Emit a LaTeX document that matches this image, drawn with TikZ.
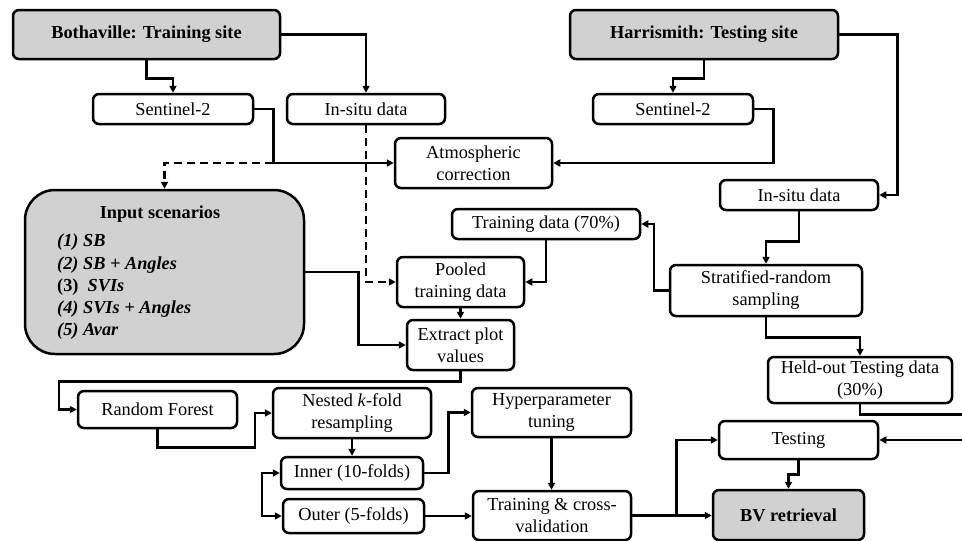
\documentclass[tikz,border=0pt]{standalone}
\usepackage{fontspec}
\setmainfont{Liberation Serif}
\usetikzlibrary{arrows.meta}

\begin{document}
\begin{tikzpicture}[x=1pt, y=-1pt, >={Triangle[length=7pt,width=7pt]},
	box/.style={draw, line width=2.5pt, rounded corners=6pt, fill=white, align=center, inner sep=0pt, font=\fontsize{18.3}{22}\selectfont},
	site/.style={box, fill=black!18, font=\fontsize{18.3}{22}\selectfont\bfseries},
	link/.style={line width=2.5pt, ->},
	dlink/.style={link, dash pattern=on 8pt off 5pt}]
	\useasboundingbox (0,0) rectangle (962,541);
	\node[site, minimum width=267pt, minimum height=49pt] (bv) at (146.5,34.5) {Bothaville: Training site};
	\node[site, minimum width=268pt, minimum height=49pt] (hs) at (704,34.5) {Harrismith: Testing site};
	\node[box, minimum width=160pt, minimum height=30pt] (senA) at (173,109) {Sentinel-2};
	\node[box, minimum width=158pt, minimum height=30pt] (insA) at (366,109) {In-situ data};
	\node[box, minimum width=160pt, minimum height=30pt] (senB) at (673,109) {Sentinel-2};
	\node[box, minimum width=157pt, minimum height=50pt] (atm) at (473.5,163) {Atmospheric\\correction};
	\node[box, minimum width=158pt, minimum height=30pt] (insB) at (799,195) {In-situ data};
	\node[box, minimum width=188pt, minimum height=30pt] (trn) at (546,224) {Training data (70\%)};
	\node[box, minimum width=127pt, minimum height=50pt] (pool) at (460.5,282) {Pooled\\training data};
	\node[box, minimum width=107pt, minimum height=50pt] (extr) at (460.5,345) {Extract plot\\values};
	\node[box, minimum width=192pt, minimum height=51pt] (strat) at (766,290.5) {Stratified-random\\sampling};
	\node[box, minimum width=184pt, minimum height=46pt] (held) at (860,380) {Held-out Testing data\\(30\%)};
	\node[box, minimum width=159pt, minimum height=37pt] (rf) at (157.5,409.5) {Random Forest};
	\node[box, minimum width=158pt, minimum height=50pt] (nest) at (352,413) {Nested \textit{k}-fold\\resampling};
	\node[box, minimum width=142pt, minimum height=32pt] (inner) at (352,473) {Inner (10-folds)};
	\node[box, minimum width=141pt, minimum height=34pt] (outer) at (353.5,516) {Outer (5-folds)};
	\node[box, minimum width=159pt, minimum height=49pt] (hyp) at (551.5,412.5) {Hyperparameter\\tuning};
	\node[box, minimum width=158pt, minimum height=49pt] (tcv) at (552,515.5) {Training \& cross-\\validation};
	\node[box, minimum width=159pt, minimum height=38pt] (test) at (798.5,440) {Testing};
	\node[site, minimum width=151pt, minimum height=50pt] (bvr) at (788.5,515) {BV retrieval};
	\node[site, rounded corners=30pt, minimum width=279pt, minimum height=164pt] (inp) at (164.5,272) {};
	\node[font=\fontsize{18.3}{22}\selectfont\bfseries] (inpT) at (160,214) {Input scenarios};
	\node[anchor=north west, align=left, inner sep=0pt, font=\fontsize{18.3}{22.2}\selectfont\bfseries] (inpL) at (57,234)
		{\textit{(1) SB}\\\textit{(2) SB + Angles}\\(3) \ \textit{SVIs}\\\textit{(4) SVIs + Angles}\\\textit{(5) Avar}};
	\coordinate (dj) at ([xshift=19pt]senA.east |- atm.west);
	\coordinate (tj) at ([xshift=44pt]tcv.east);
	\draw[link] (bv.south) -- ++(0,18) -| (senA.north);
	\draw[link] (bv.east) -| (insA.north);
	\draw[link] (hs.south) -- ++(0,18) -| (senB.north);
	\draw[link] (hs.east) -- ++(58,0) |- (insB.east);
	\draw[link] (senA.east) -- ++(19,0) |- (atm.west);
	\draw[link] (senB.east) -- ++(19,0) |- (atm.east);
	\draw[dlink] (insA.south) |- (pool.west);
	\draw[dlink] (dj) -| (inp.north);
	\draw[link] (insB.south) -- ++(0,30) -| (strat.north);
	\draw[link] (strat.west) -- ++(-15,0) |- (trn.east);
	\draw[link] (trn.south) |- (pool.east);
	\draw[link] (pool.south) -- (extr.north);
	\draw[link] (inp.east) -- ++(53,0) |- (extr.west);
	\draw[link] (strat.south) -- ++(0,20) -| (held.north);
	\draw[link] (held.south) -- ++(0,10) -- ++(106,0) |- (test.east);
	\draw[link] (extr.south) -- ++(0,10) -| ([xshift=-18pt]rf.west) -- (rf.west);
	\draw[link] (rf.south) -- ++(0,18) -| ([xshift=-17pt]nest.west) -- (nest.west);
	\draw[link] (nest.south) -- (inner.north);
	\draw[link, <->] (inner.west) -- ++(-18,0) |- (outer.west);
	\draw[link] (inner.east) -- ++(24,0) |- (hyp.west);
	\draw[link] (outer.east) -- (outer.east -| tcv.west);
	\draw[link] (hyp.south) -- (hyp.south |- tcv.north);
	\draw[link] (tcv.east) -- (tcv.east -| bvr.west);
	\draw[link] (tj) |- (test.west);
	\draw[link] (test.south) -- ++(0,14) -| (bvr.north);
\end{tikzpicture}
\end{document}
